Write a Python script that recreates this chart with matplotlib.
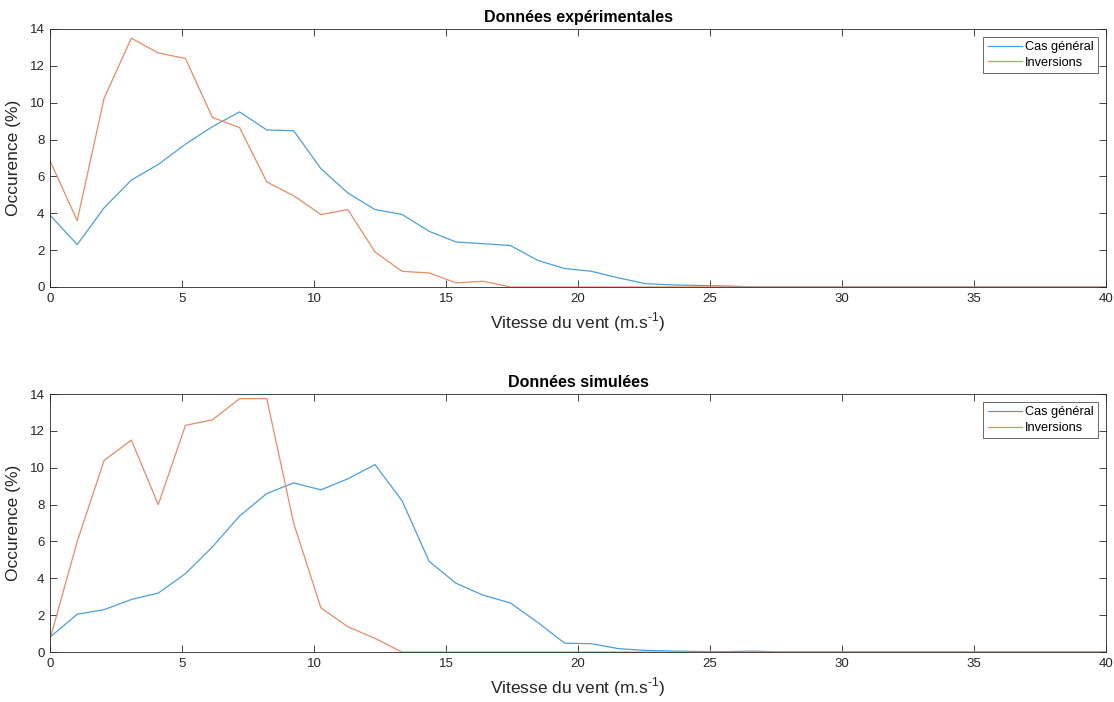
import matplotlib
matplotlib.use('Agg')
import matplotlib.pyplot as plt

# vitesse du vent (m/s), 40 classes entre 0 et 40
vitesse = [0.0, 1.03, 2.05, 3.08, 4.1, 5.13, 6.15, 7.18, 8.21, 9.23,
           10.26, 11.28, 12.31, 13.33, 14.36, 15.38, 16.41, 17.44, 18.46, 19.49,
           20.51, 21.54, 22.56, 23.59, 24.62, 25.64, 26.67, 27.69, 28.72, 29.74,
           30.77, 31.79, 32.82, 33.85, 34.87, 35.9, 36.92, 37.95, 38.97, 40.0]

exp_general = [3.9, 2.3, 4.3, 5.8, 6.65, 7.75, 8.7, 9.5, 8.52, 8.48,
               6.42, 5.1, 4.2, 3.94, 3.02, 2.44, 2.35, 2.25, 1.45, 1.0,
               0.85, 0.49, 0.18, 0.11, 0.08, 0.05, 0.0] + [0.0] * 13
exp_inversions = [6.85, 3.6, 10.25, 13.5, 12.7, 12.4, 9.2, 8.65, 5.7, 4.95,
                  3.93, 4.2, 1.9, 0.85, 0.76, 0.22, 0.31, 0.0] + [0.0] * 22

sim_general = [0.81, 2.05, 2.3, 2.85, 3.2, 4.25, 5.7, 7.38, 8.6, 9.18,
               8.8, 9.4, 10.17, 8.22, 4.92, 3.73, 3.08, 2.66, 1.62, 0.48,
               0.45, 0.18, 0.09, 0.05, 0.03, 0.02, 0.05, 0.0] + [0.0] * 12
sim_inversions = [0.7, 6.0, 10.4, 11.5, 8.0, 12.3, 12.6, 13.75, 13.75, 6.98,
                  2.4, 1.37, 0.74, 0.0] + [0.0] * 26

titles = ['Données expérimentales', 'Données simulées']
labels = ['Cas général', 'Inversions']

plt.rcParams['font.family'] = ['Liberation Sans', 'DejaVu Sans']
plt.rcParams['mathtext.fontset'] = 'custom'
plt.rcParams['mathtext.rm'] = 'Liberation Sans'

blue = '#4a9fdb'
orange = '#ea8a63'
axcol = '#262626'

fig = plt.figure(figsize=(11.14, 7.02), dpi=100)
ax1 = fig.add_axes([0.0449, 0.5912, 0.948, 0.3675])
ax2 = fig.add_axes([0.0449, 0.0712, 0.948, 0.3675])

series = [(exp_general, exp_inversions), (sim_general, sim_inversions)]
for ax, title, (gen, inv) in zip([ax1, ax2], titles, series):
    ax.plot(vitesse, gen, color=blue, lw=0.9, label=labels[0])
    ax.plot(vitesse, inv, color=orange, lw=0.9, label=labels[1])
    ax.set_xlim(0, 40)
    ax.set_ylim(0, 14)
    ax.set_xticks(range(0, 41, 5))
    ax.set_yticks(range(0, 15, 2))
    ax.tick_params(direction='in', top=True, right=True, length=5,
                   width=0.6, colors=axcol, labelsize=9.5, pad=4)
    for sp in ax.spines.values():
        sp.set_color(axcol)
        sp.set_linewidth(0.6)
    ax.set_title(title, fontsize=11.5, fontweight='bold', pad=5)
    ax.set_xlabel('Vitesse du vent (m.s$^{\\text{-}1}$)', fontsize=12.5, color=axcol, labelpad=4)
    ax.set_ylabel('Occurence (%)', fontsize=12.5, color=axcol, labelpad=6)
    leg = ax.legend(loc='upper right', fontsize=9.2, handlelength=2.7,
                    handletextpad=0.25, borderpad=0.35, labelspacing=0.3,
                    fancybox=False, borderaxespad=0.6)
    leg.get_frame().set_edgecolor(axcol)
    leg.get_frame().set_linewidth(0.6)

fig.savefig('out.png', dpi=100)
